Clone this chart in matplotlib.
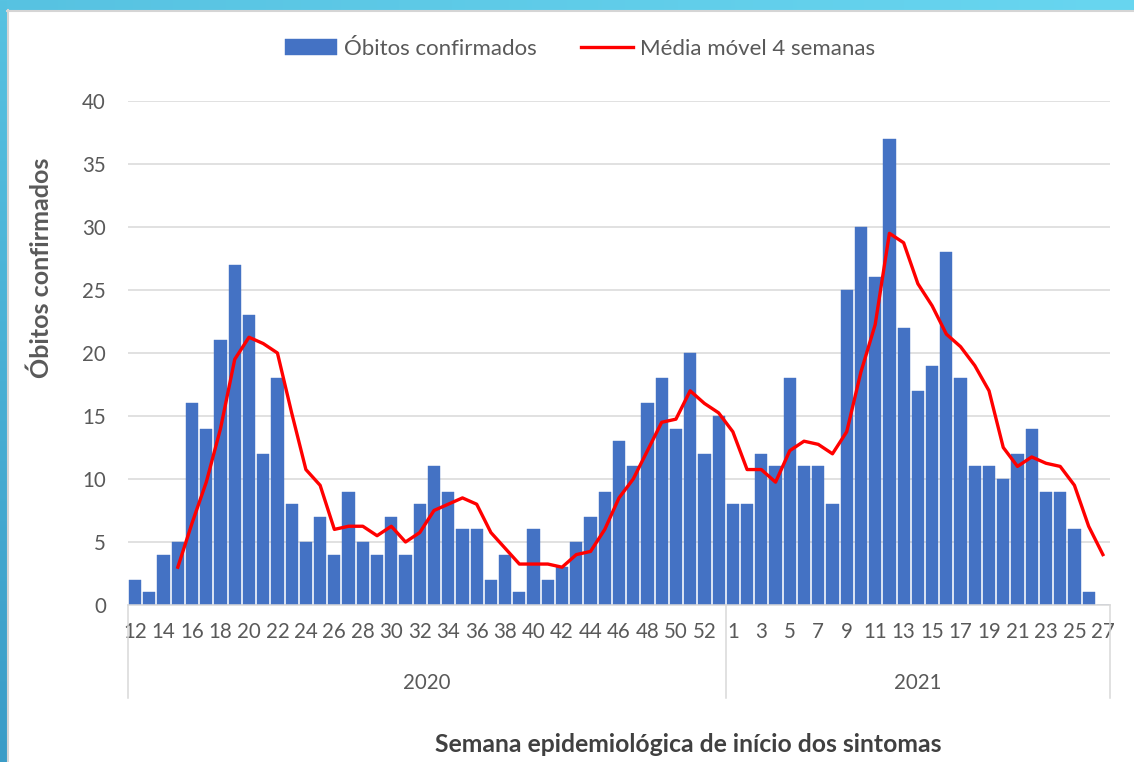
import numpy as np
import matplotlib
matplotlib.use("Agg")
import matplotlib.pyplot as plt
from matplotlib.colors import LinearSegmentedColormap

# ---------------- data ----------------
weeks_2020 = [12, 13, 14, 15, 16, 17, 18, 19, 20, 21, 22, 23, 24, 25, 26, 27, 28, 29, 30, 31,
              32, 33, 34, 35, 36, 37, 38, 39, 40, 41, 42, 43, 44, 45, 46, 47, 48, 49, 50, 51,
              52, 53]
deaths_2020 = [2, 1, 4, 5, 16, 14, 21, 27, 23, 12, 18, 8, 5, 7, 4, 9, 5, 4, 7, 4,
               8, 11, 9, 6, 6, 2, 4, 1, 6, 2, 3, 5, 7, 9, 13, 11, 16, 18, 14, 20,
               12, 15]
ma_2020 = [np.nan, np.nan, np.nan, 3, 6.5, 9.75, 14, 19.5, 21.25, 20.75, 20, 15.25, 10.75, 9.5,
           6, 6.25, 6.25, 5.5, 6.25, 5, 5.75, 7.5, 8, 8.5, 8, 5.75, 4.5, 3.25, 3.25, 3.25,
           3, 4, 4.25, 6, 8.5, 10, 12.25, 14.5, 14.75, 17, 16, 15.25]

weeks_2021 = [1, 2, 3, 4, 5, 6, 7, 8, 9, 10, 11, 12, 13, 14, 15, 16, 17, 18, 19, 20,
              21, 22, 23, 24, 25, 26, 27]
deaths_2021 = [8, 8, 12, 11, 18, 11, 11, 8, 25, 30, 26, 37, 22, 17, 19, 28, 18, 11, 11, 10,
               12, 14, 9, 9, 6, 1, 0]
ma_2021 = [13.75, 10.75, 10.75, 9.75, 12.25, 13, 12.75, 12, 13.75, 18.5, 22.25, 29.5, 28.75,
           25.5, 23.75, 21.5, 20.5, 19, 17, 12.5, 11, 11.75, 11.25, 11, 9.5, 6.25, 4]

years = ["2020", "2021"]
yticks = [0, 5, 10, 15, 20, 25, 30, 35, 40]

bar_label = "Óbitos confirmados"
line_label = "Média móvel 4 semanas"
ylabel = "Óbitos confirmados"
xlabel = "Semana epidemiológica de início dos sintomas"

# ---------------- style ----------------
plt.rcParams['font.family'] = ['Lato', 'DejaVu Sans']
TXT = '#595959'
W, H = 1134, 762

fig = plt.figure(figsize=(W / 100, H / 100), dpi=100)
fig.patch.set_facecolor('white')

# decorative frame (cyan strips at top and left)
bg = fig.add_axes([0, 0, 1, 1], zorder=-10)
bg.set_xlim(0, W)
bg.set_ylim(H, 0)
bg.axis('off')
cm_top = LinearSegmentedColormap.from_list('t', ['#57C2E1', '#68D6F0'])
cm_left = LinearSegmentedColormap.from_list('l', ['#57C2E1', '#3A9CC7'])
grad = np.linspace(0, 1, 256)
bg.imshow(grad[None, :], cmap=cm_top, extent=[0, W, 10, 0], aspect='auto')
bg.imshow(grad[:, None], cmap=cm_left, extent=[0, 7, H, 0], aspect='auto')
bg.plot([7, W], [11, 11], color='#d5d5d5', lw=1.5)
bg.plot([8, 8], [10, H], color='#d5d5d5', lw=1.5)

# main axes
ax = fig.add_axes([128 / W, 157 / H, 982 / W, 504 / H])
deaths = deaths_2020 + deaths_2021
ma = ma_2020 + ma_2021
weeks = weeks_2020 + weeks_2021
x = np.arange(len(deaths))

bars = ax.bar(x, deaths, width=0.86, color='#4472C4', edgecolor='#4472C4', lw=0.3,
              zorder=2, label=bar_label)
line, = ax.plot(x, ma, color='#FF0000', lw=2.4, zorder=3, label=line_label,
                solid_joinstyle='round')

ax.set_xlim(-0.5, len(deaths) - 0.5)
ax.set_ylim(0, 40)
ax.set_yticks(yticks)
ax.yaxis.grid(True, color='#d9d9d9', lw=1.1)
ax.set_axisbelow(True)
for s in ['top', 'right', 'left']:
    ax.spines[s].set_visible(False)
ax.spines['bottom'].set_color('#d9d9d9')
ax.spines['bottom'].set_linewidth(1.1)

tick_pos = x[::2]
ax.set_xticks(tick_pos)
ax.set_xticklabels([str(weeks[i]) for i in tick_pos])
ax.tick_params(axis='both', length=0, labelsize=14.8, labelcolor=TXT)
ax.tick_params(axis='x', pad=12)
ax.tick_params(axis='y', pad=16)

# multi-level category separators and year labels
n20 = len(deaths_2020)
trans = ax.get_xaxis_transform()
for xs in [-0.5, n20 - 0.5, len(deaths) - 0.5]:
    ax.plot([xs, xs], [0, -0.185], transform=trans, color='#d9d9d9', lw=1.1, clip_on=False)
ax.text((n20 - 1) / 2, -0.155, years[0], transform=trans, ha='center', va='center',
        fontsize=14.8, color=TXT)
ax.text((n20 + len(deaths) - 1) / 2, -0.155, years[1], transform=trans, ha='center',
        va='center', fontsize=14.8, color=TXT)

ax.set_ylabel(ylabel, fontsize=18, fontweight='bold', color=TXT)
ax.yaxis.set_label_coords(-0.076, 0.669)
fig.text(688 / W, 1 - 745 / H, xlabel, ha='center', va='center', fontsize=17.8,
         fontweight='bold', color='#404040')

leg = ax.legend(handles=[bars, line], loc='center', bbox_to_anchor=(580 / W, 1 - 49 / H),
                bbox_transform=fig.transFigure, ncol=2, frameon=False, handlelength=2.35,
                handletextpad=0.3, columnspacing=2.0, fontsize=16, labelcolor=TXT)

fig.savefig('out.png', dpi=100, facecolor='white')
